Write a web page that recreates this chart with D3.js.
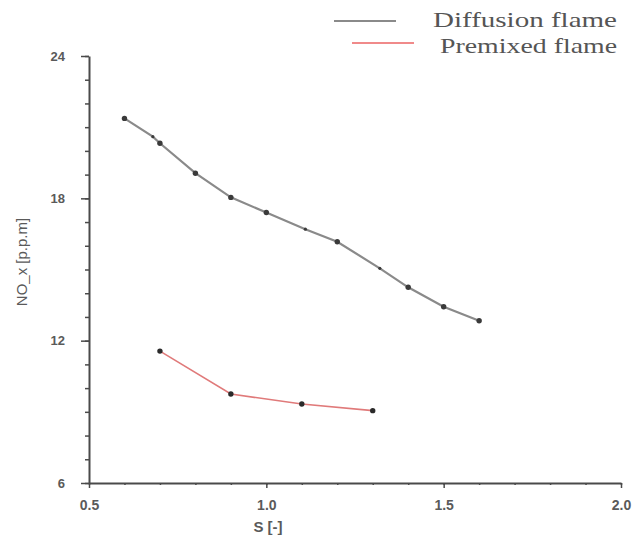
<!DOCTYPE html>
<html>
<head>
<meta charset="utf-8">
<script src="https://cdn.jsdelivr.net/npm/d3@7"></script>
<style>
  body { margin: 0; background: #fff; }
  svg { display: block; }
</style>
</head>
<body>
<svg id="chart" width="636" height="545"></svg>
<script>
// values
const diffusionS   = [0.6, 0.68, 0.7, 0.8, 0.9, 1.0, 1.11, 1.2, 1.32, 1.4, 1.5, 1.6]
const diffusionNOx = [21.37, 20.6, 20.32, 19.06, 18.04, 17.4, 16.7, 16.17, 15.05, 14.25, 13.43, 12.84]
const premixedS    = [0.7, 0.9, 1.1, 1.3]
const premixedNOx  = [11.56, 9.75, 9.33, 9.05]
const xTicks = [0.5, 1.0, 1.5, 2.0]
const yTicks = [6, 12, 18, 24]
const legendLabels = ['Diffusion flame', 'Premixed flame']

const svg = d3.select('#chart')

const x = d3.scaleLinear().domain([0.5, 2.0]).range([89, 621])
const y = d3.scaleLinear().domain([6, 24]).range([483, 56])

const axisColor = '#4a4a4a'
const labelColor = '#5a5a5a'

// minor ticks first, then the major ones on top
svg.append('g')
    .attr('transform', 'translate(0,483)')
    .call(d3.axisBottom(x).tickValues(d3.range(0.5, 2.001, 0.1)).tickSize(2).tickFormat(''))
    .call(g => g.select('.domain').remove())
svg.append('g')
    .attr('transform', 'translate(89,0)')
    .call(d3.axisLeft(y).tickValues(d3.range(6, 24.5, 1)).tickSize(4).tickFormat(''))
    .call(g => g.select('.domain').remove())

const xAxis = svg.append('g')
    .attr('transform', 'translate(0,483)')
    .call(d3.axisBottom(x).tickValues(xTicks).tickSize(5).tickSizeOuter(0).tickPadding(12).tickFormat(d3.format('.1f')))
const yAxis = svg.append('g')
    .attr('transform', 'translate(89,0)')
    .call(d3.axisLeft(y).tickValues(yTicks).tickSize(8).tickSizeOuter(0).tickPadding(16).tickFormat(d3.format('d')))

svg.selectAll('.tick line').attr('stroke', axisColor).attr('stroke-width', 1.5)
svg.selectAll('.domain').attr('stroke', axisColor).attr('stroke-width', 2)
xAxis.selectAll('text').attr('fill', labelColor).attr('font-family', 'Liberation Sans, Arial, sans-serif')
    .attr('font-weight', 'bold').attr('font-size', 14)
yAxis.selectAll('text').attr('fill', labelColor).attr('font-family', 'Liberation Sans, Arial, sans-serif')
    .attr('font-weight', 'bold').attr('font-size', 13)

svg.append('text')
    .attr('x', 268).attr('y', 532)
    .attr('text-anchor', 'middle')
    .attr('fill', labelColor)
    .attr('font-family', 'Liberation Sans, Arial, sans-serif')
    .attr('font-weight', 'bold').attr('font-size', 15)
    .text('S [-]')

svg.append('text')
    .attr('transform', 'translate(27,262) rotate(-90)')
    .attr('text-anchor', 'middle')
    .attr('fill', labelColor)
    .attr('font-family', 'Liberation Sans, Arial, sans-serif')
    .attr('font-size', 15)
    .text('NO_x [p.p.m]')

// series
const line = d3.line().x(d => x(d[0])).y(d => y(d[1]))

const diffusion = diffusionS.map((s, i) => [s, diffusionNOx[i]])
const premixed = premixedS.map((s, i) => [s, premixedNOx[i]])

// points that are not on a 0.1 step show as smaller dots in the original
const dotR = s => Math.abs(s * 10 - Math.round(s * 10)) < 0.01 ? 2.7 : 1.6

svg.append('path')
    .datum(diffusion)
    .attr('d', line)
    .attr('fill', 'none')
    .attr('stroke', '#8a8a8a')
    .attr('stroke-width', 2.2)

svg.append('path')
    .datum(premixed)
    .attr('d', line)
    .attr('fill', 'none')
    .attr('stroke', '#e07a7a')
    .attr('stroke-width', 1.6)

svg.selectAll('.dot-d')
    .data(diffusion)
    .join('circle')
    .attr('cx', d => x(d[0])).attr('cy', d => y(d[1]))
    .attr('r', d => dotR(d[0]))
    .attr('fill', '#3a3a3a')

svg.selectAll('.dot-p')
    .data(premixed)
    .join('circle')
    .attr('cx', d => x(d[0])).attr('cy', d => y(d[1]))
    .attr('r', 2.7)
    .attr('fill', '#2a2a2a')

// legend
const legendColors = ['#8a8a8a', '#f08a8a']
const legend = svg.append('g')
legend.selectAll('line')
    .data(legendLabels)
    .join('line')
    .attr('x1', (d, i) => i ? 352 : 334)
    .attr('x2', (d, i) => i ? 414 : 396)
    .attr('y1', (d, i) => i ? 43 : 21)
    .attr('y2', (d, i) => i ? 43 : 21)
    .attr('stroke', (d, i) => legendColors[i])
    .attr('stroke-width', 2)
legend.selectAll('text')
    .data(legendLabels)
    .join('text')
    .attr('x', (d, i) => i ? 440 : 433)
    .attr('y', (d, i) => i ? 53 : 27)
    .attr('fill', '#555')
    .attr('font-family', 'Liberation Serif, Times New Roman, serif')
    .attr('font-size', 22)
    .attr('textLength', (d, i) => i ? 177 : 184)
    .attr('lengthAdjust', 'spacingAndGlyphs')
    .text(d => d)
</script>
</body>
</html>
